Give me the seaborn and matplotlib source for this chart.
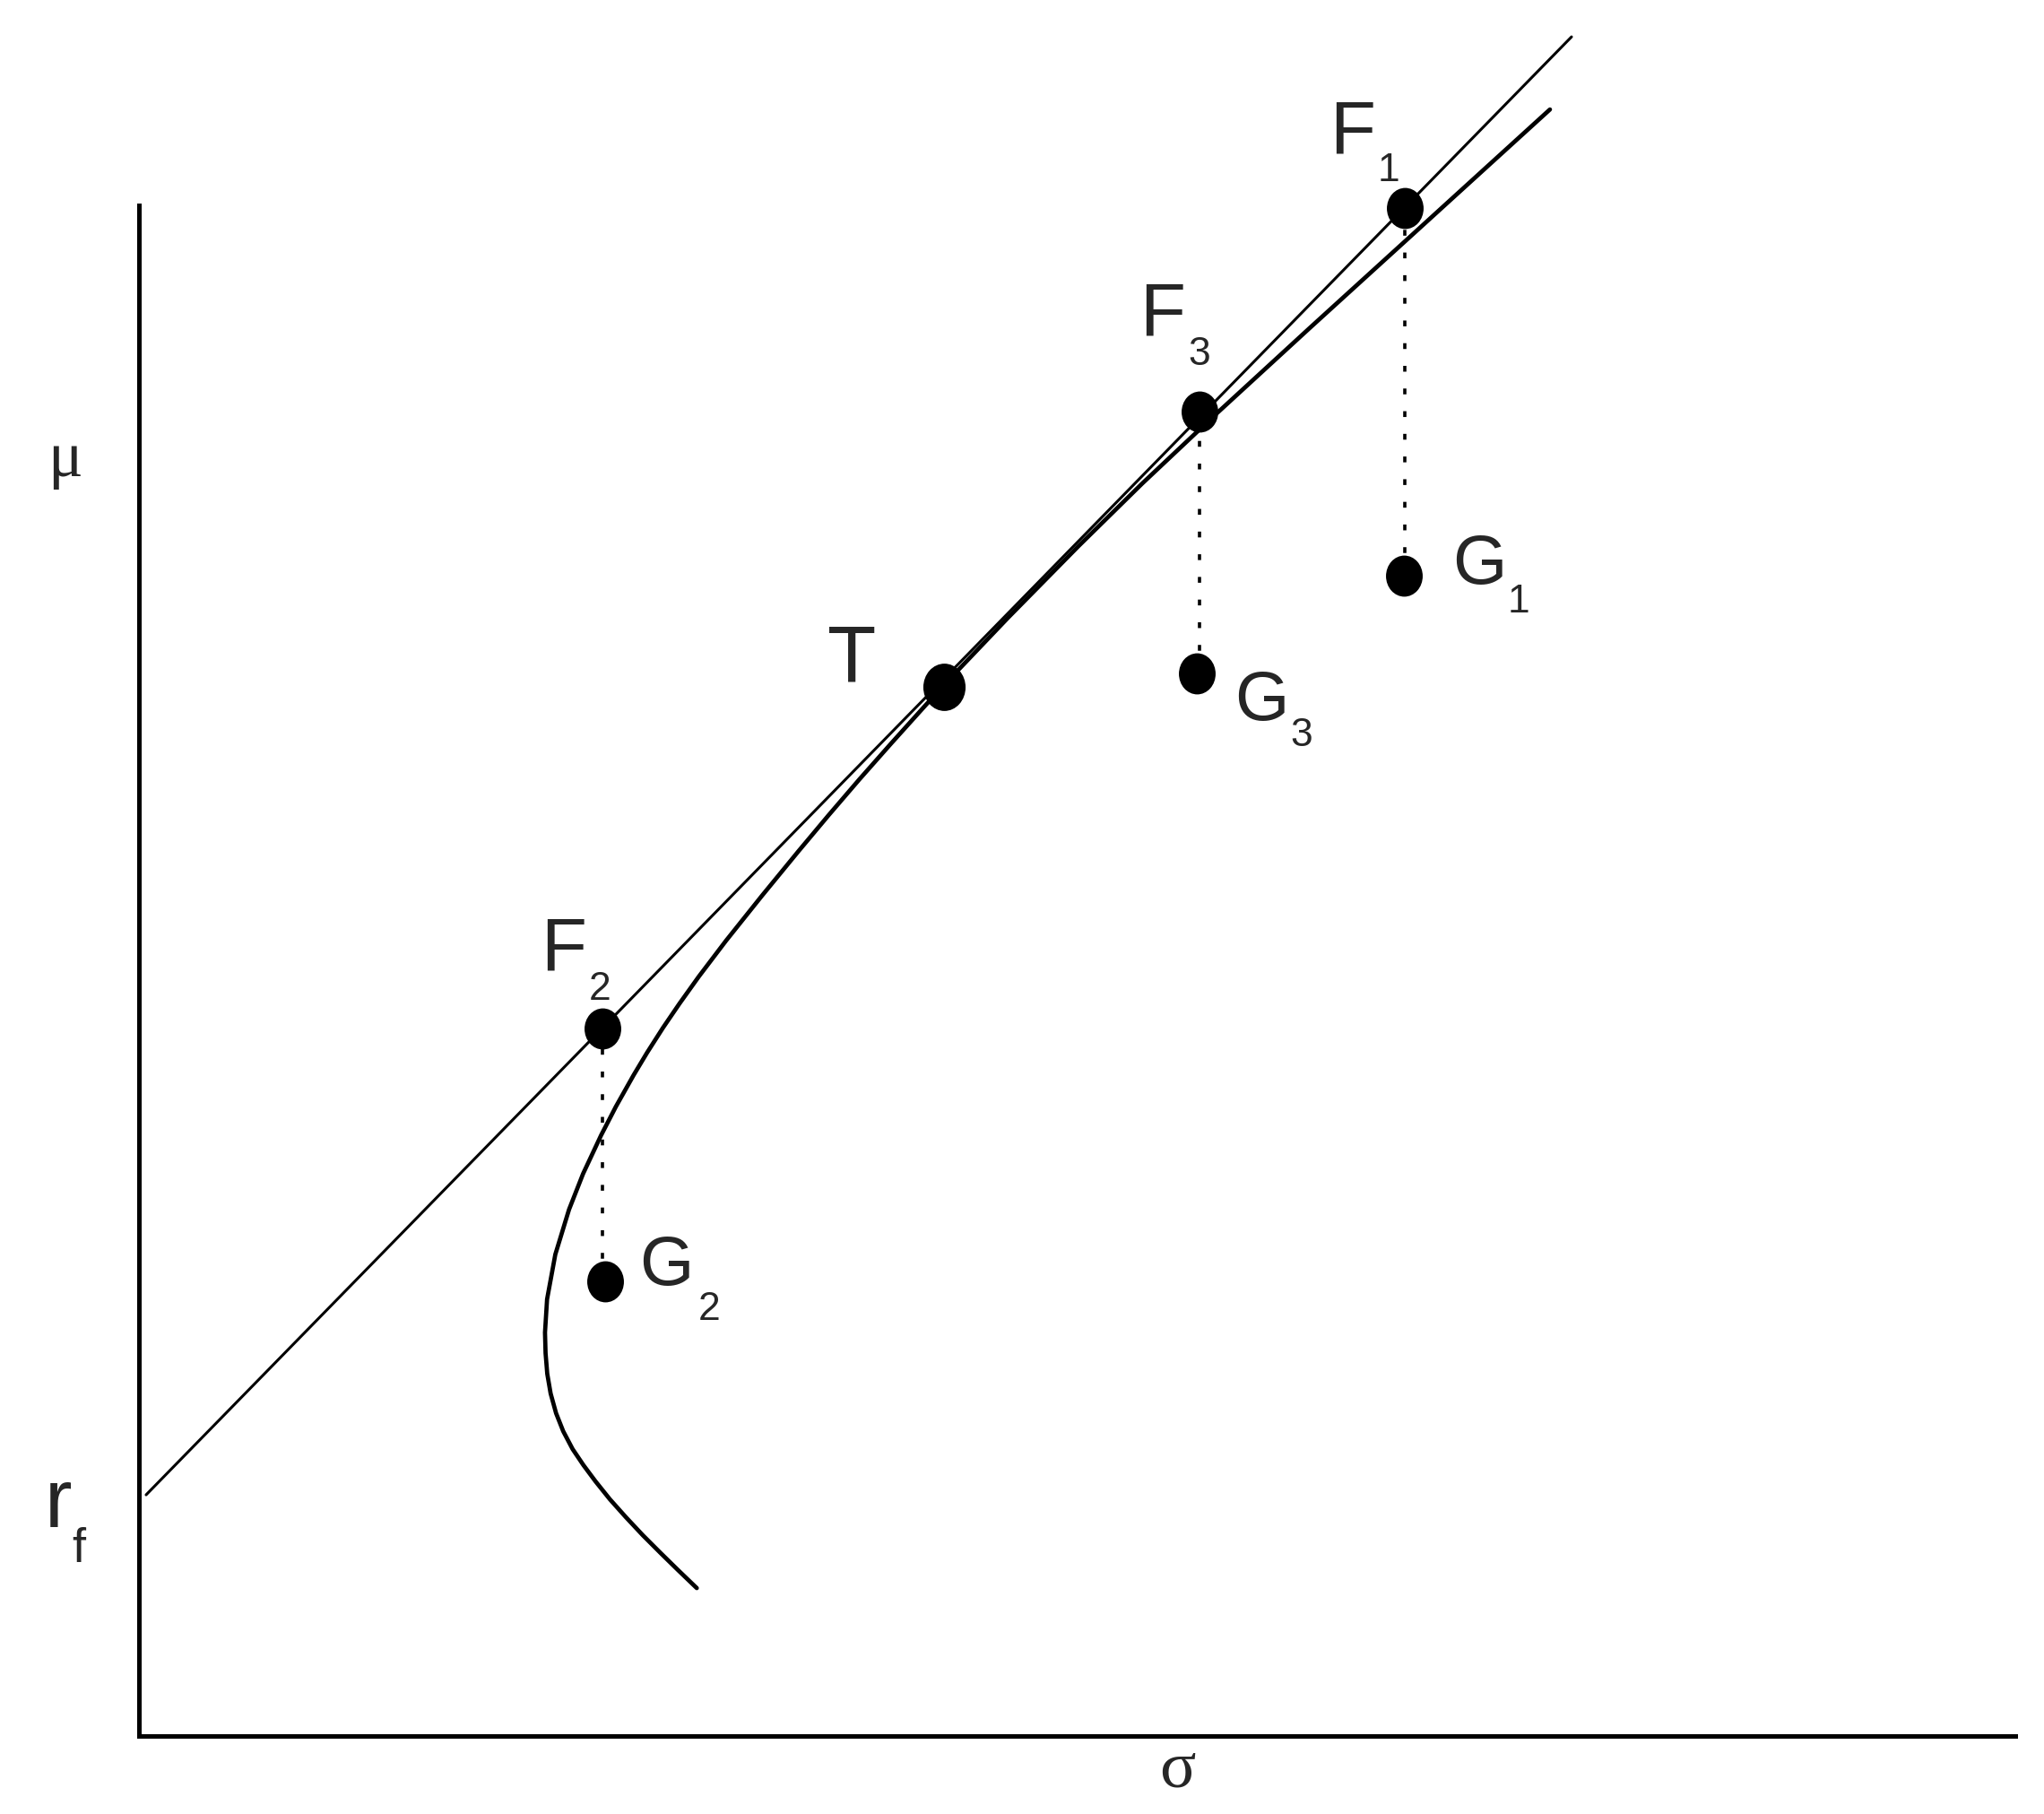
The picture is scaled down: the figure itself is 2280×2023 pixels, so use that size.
import matplotlib
matplotlib.use("Agg")
import matplotlib.pyplot as plt
import seaborn as sns
import pandas as pd
from matplotlib.path import Path
from matplotlib.transforms import Affine2D

# efficient frontier (sigma, mu), bottom to top
frontier_sigma = [2.973, 2.873, 2.780, 2.685, 2.595, 2.510, 2.433, 2.369, 2.311,
                  2.261, 2.223, 2.194, 2.176, 2.167, 2.164, 2.175, 2.219, 2.292,
                  2.367, 2.463, 2.542, 2.636, 2.708, 2.793, 2.881, 2.984, 3.129,
                  3.320, 3.516, 3.676, 3.840, 4.009, 4.181, 4.290, 4.631, 5.007,
                  5.348, 5.738, 6.238, 6.800, 7.520]
frontier_mu = [0.788, 0.884, 0.975, 1.070, 1.166, 1.261, 1.357, 1.443, 1.529,
               1.624, 1.720, 1.825, 1.930, 2.040, 2.150, 2.327, 2.566, 2.805,
               2.996, 3.201, 3.354, 3.521, 3.641, 3.774, 3.903, 4.047, 4.238,
               4.477, 4.716, 4.907, 5.098, 5.289, 5.480, 5.600, 5.958, 6.340,
               6.675, 7.042, 7.501, 8.012, 8.667]

# capital market line from r_f
cml_sigma = [0.038, 7.635]
cml_mu = [1.285, 9.054]

# tangency portfolio
t_sigma = [4.290]
t_mu = [5.590]

# F points on the CML and G points below them
f_names = ["1", "2", "3"]
f_sigma = [6.746, 2.470, 5.652]
f_mu = [8.141, 3.770, 7.057]
g_sigma = [6.741, 2.484, 5.638]
g_mu = [6.183, 2.422, 5.662]

# axis extents (data units)
sigma_max = 10.0
mu_max = 8.156

sns.set_theme(style="white")
plt.rcParams["font.family"] = ["Liberation Sans", "DejaVu Sans"]

fig = plt.figure(figsize=(22.8, 20.24), dpi=100)
ax = fig.add_axes([0, 0, 1, 1])
ax.set_xlim(-0.7406, 10.153)
ax.set_ylim(-0.4157, 9.255)

# axes drawn as spines through the origin
for side in ["top", "right"]:
    ax.spines[side].set_visible(False)
ax.spines["left"].set_position(("data", 0))
ax.spines["bottom"].set_position(("data", 0))
ax.spines["left"].set_bounds(0, mu_max)
ax.spines["bottom"].set_bounds(0, sigma_max)
for side in ["left", "bottom"]:
    ax.spines[side].set_linewidth(3.6)
    ax.spines[side].set_color("black")
ax.set_xticks([])
ax.set_yticks([])

frontier = pd.DataFrame({"sigma": frontier_sigma, "mu": frontier_mu})
sns.lineplot(data=frontier, x="sigma", y="mu", sort=False, estimator=None,
             color="black", lw=3.4, ax=ax)
sns.lineplot(x=cml_sigma, y=cml_mu, sort=False, estimator=None,
             color="black", lw=2.2, ax=ax)

# dotted drops from F to G
ax.vlines(f_sigma, g_mu, f_mu, colors="black", lw=2.6,
          linestyles=[(0, (1.8, 5.2))])

# slightly tall dots, as in the scan
dot = Path.unit_circle().transformed(Affine2D().scale(1.0, 1.12))
sns.scatterplot(x=f_sigma + g_sigma, y=f_mu + g_mu, marker=dot, s=33 ** 2,
                color="black", linewidth=0, ax=ax, zorder=5)
sns.scatterplot(x=t_sigma, y=t_mu, marker=dot, s=38 ** 2,
                color="black", linewidth=0, ax=ax, zorder=5)


def point_label(x, y, main, sub, main_off, sub_off, main_size, sub_size=32):
    ax.annotate(main, (x, y), xytext=main_off, textcoords="offset pixels",
                fontsize=main_size, ha="left", va="baseline")
    if sub:
        ax.annotate(sub, (x, y), xytext=sub_off, textcoords="offset pixels",
                    fontsize=sub_size, ha="left", va="baseline")


f_offsets = {"1": ((-84, 63), (-30, 31)),
             "2": ((-69, 66), (-15, 33)),
             "3": ((-67, 87), (-13, 53))}
g_offsets = {"1": ((54, -8), (116, -40)),
             "2": ((38, -3), (104, -42)),
             "3": ((42, -51), (104, -80))}

for name, fx, fy, gx, gy in zip(f_names, f_sigma, f_mu, g_sigma, g_mu):
    point_label(fx, fy, "F", name, *f_offsets[name], main_size=60)
    point_label(gx, gy, "G", name, *g_offsets[name], main_size=56)

point_label(t_sigma[0], t_mu[0], "T", "", (-130, 7), None, main_size=64)

# axis labels
fig.text(0.0232, 0.7376, "\u03bc", fontsize=52, family="Liberation Serif",
         ha="left", va="baseline")
fig.text(0.5759, 0.0158, "\u03c3", fontsize=54, family="Liberation Serif",
         ha="center", va="baseline")
fig.text(0.0219, 0.1586, "r", fontsize=66, ha="left", va="baseline")
fig.text(0.0351, 0.1393, "f", fontsize=39, ha="left", va="baseline")

fig.savefig("out.png", dpi=100, facecolor="white")
